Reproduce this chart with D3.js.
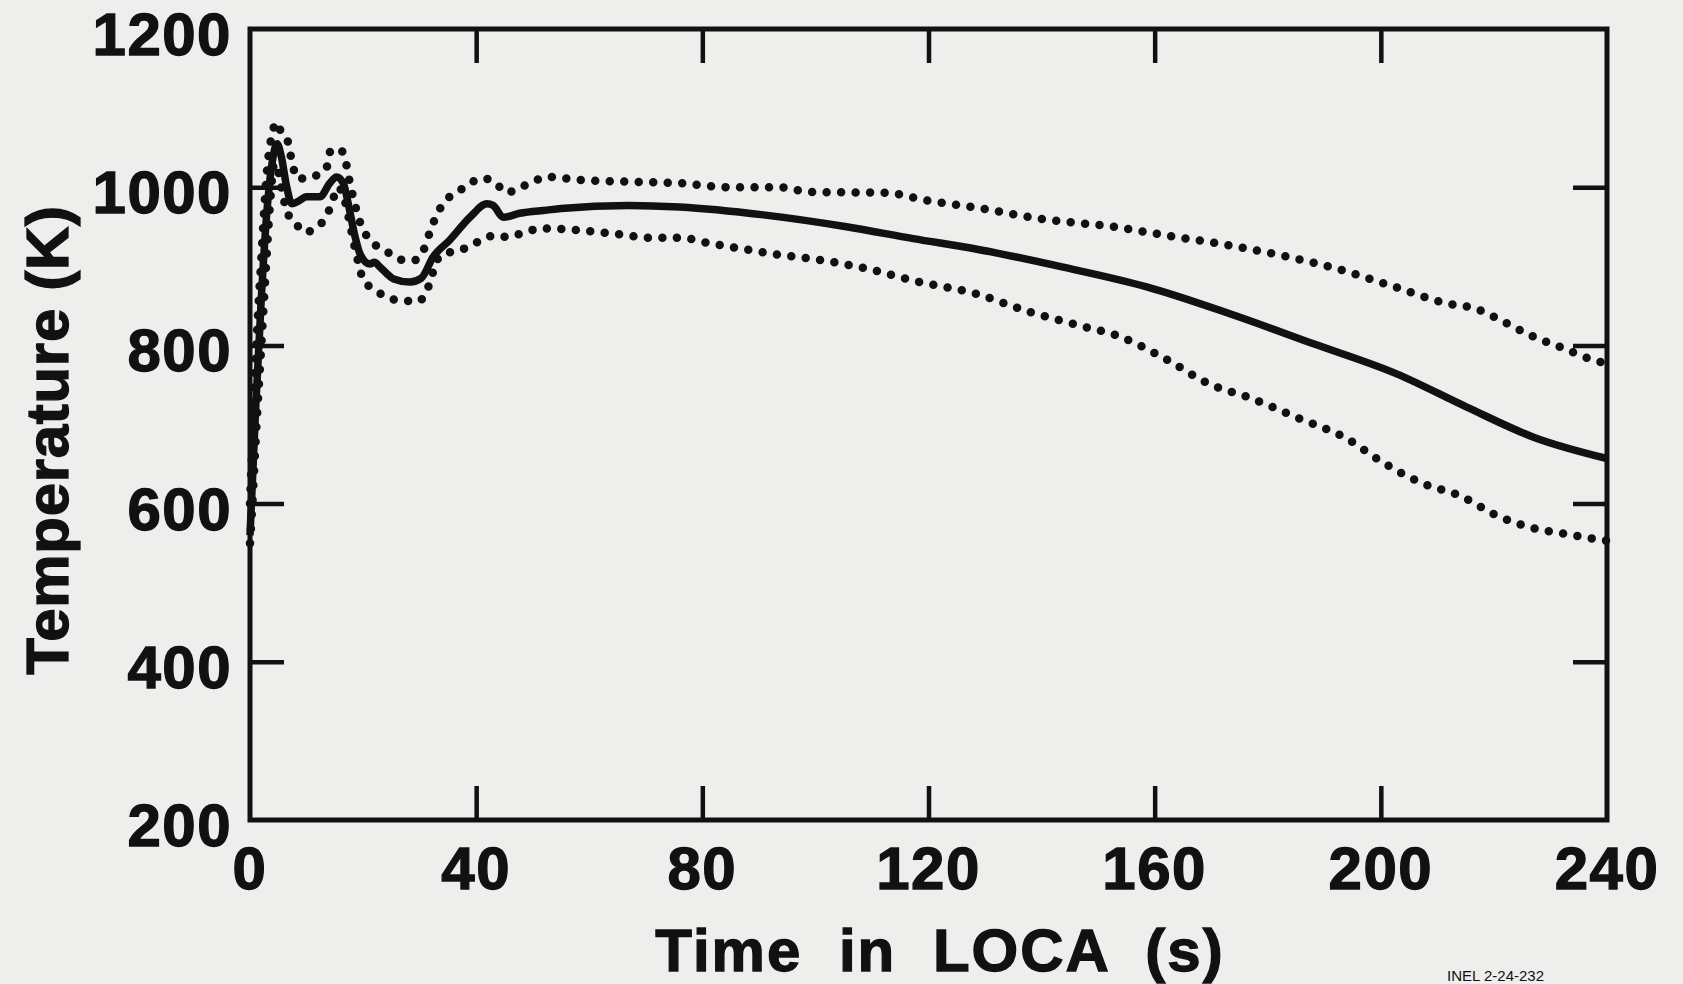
<!DOCTYPE html>
<html>
<head>
<meta charset="utf-8">
<script src="https://cdn.jsdelivr.net/npm/d3@7"></script>
<style>
  html, body { margin: 0; padding: 0; background: #eeeeec; }
  svg { display: block; }
  text { font-family: "Liberation Sans", Arial, Helvetica, sans-serif; font-weight: bold; fill: #111; }
</style>
</head>
<body>
<svg id="chart" width="1683" height="984"></svg>
<script>
// ---- data ----
const xTicks = [0, 40, 80, 120, 160, 200, 240];
const yTicks = [200, 400, 600, 800, 1000, 1200];

// solid line: best estimate
const solidT = [0, 0.5, 1, 2, 3, 4, 4.8, 5.5, 6.5, 7.4, 8.5, 10, 12.4, 14.1, 15.3, 16.5, 17.5, 18.5, 19.5, 21.2, 22, 23, 25.4, 28.3, 30.3, 32.4, 35.3, 38.9, 41.9, 43, 44.8, 47.7, 52.5, 55, 67, 76, 90.8, 105.5, 117.3, 129, 143.8, 158.6, 173.3, 188.1, 202.8, 215.2, 227, 240];
const solidV = [560, 640, 720, 860, 970, 1035, 1055, 1040, 1000, 979, 982, 988, 988, 1005, 1013, 1005, 975, 940, 915, 903, 905, 899, 884, 880, 885, 912, 933, 962, 979, 977, 962, 967, 971, 973, 977, 975, 965, 950, 935, 921, 899, 874, 840, 802, 764, 722, 684, 657];

// upper dotted bound
const upperT = [0, 0.5, 1, 2, 3, 4, 4.7, 5.5, 6.5, 7.5, 8.3, 9.7, 11.8, 13.6, 14.3, 16, 17, 17.5, 18.5, 19.5, 20.5, 21.8, 23.9, 27.1, 29.2, 30.9, 31.8, 33.3, 35.3, 37.1, 38.9, 40.9, 42.7, 44.2, 45.4, 47.2, 49.8, 52.5, 58.4, 67.2, 76.1, 84.9, 93.7, 99, 112.6, 119.1, 128.5, 140.9, 152.7, 162.1, 172.7, 182.2, 192.2, 201.6, 211.7, 217, 221.7, 226.4, 231.7, 237, 240];
const upperV = [600, 690, 780, 910, 1020, 1070, 1082, 1070, 1062, 1030, 1011, 1011, 1015, 1026, 1047, 1047, 1030, 1011, 980, 955, 940, 929, 920, 908, 908, 924, 943, 969, 988, 996, 1005, 1011, 1009, 1000, 993, 998, 1006, 1013, 1009, 1007, 1005, 1000, 1000, 994, 993, 984, 974, 959, 950, 939, 927, 914, 897, 876, 853, 846, 830, 813, 798, 783, 777];

// lower dotted bound
const lowerT = [0, 0.5, 1, 2, 3, 3.5, 4.3, 5, 5.8, 6.8, 8.1, 9.6, 11.7, 13.4, 14.5, 15.5, 16.5, 17.5, 18.5, 19.5, 20, 21.8, 24.8, 27.1, 29.5, 31.2, 31.8, 33.5, 36.5, 38.6, 41.3, 43.6, 45.4, 47.7, 51.6, 57.2, 64.8, 71, 76.1, 81.4, 87.2, 93.2, 100.8, 109.1, 117.3, 128.5, 138, 146.8, 153.9, 160.9, 170.4, 176.3, 185.1, 194, 199.9, 206.9, 214.6, 219.9, 226.4, 232.3, 240];
const lowerV = [550, 610, 680, 800, 920, 975, 1030, 1020, 990, 965, 954, 943, 949, 962, 980, 1000, 990, 960, 925, 895, 882, 872, 859, 857, 855, 867, 880, 912, 920, 924, 935, 939, 937, 941, 948, 946, 941, 936, 936, 929, 922, 915, 908, 897, 882, 865, 842, 825, 811, 787, 749, 735, 709, 682, 654, 627, 608, 587, 570, 562, 553];

const xLabel = "Time in LOCA (s)";
const yLabel = "Temperature (K)";
const stamp = "INEL 2-24-232";

// ---- layout ----
const L = 250, R = 1607, T = 29, B = 820;
const svg = d3.select("#chart");
svg.append("rect").attr("width", 1683).attr("height", 984).attr("fill", "#eeeeec");

const x = d3.scaleLinear().domain([0, 240]).range([L, R]);
const y = d3.scaleLinear().domain([200, 1200]).range([B, T]);

const tickLen = 34;
const ink = "#111";

// frame axes with inward ticks
const inner = xTicks.filter(d => d > 0 && d < 240);
const innerY = yTicks.filter(d => d > 200 && d < 1200);

const gB = svg.append("g").attr("transform", `translate(0,${B})`)
  .call(d3.axisBottom(x).tickValues(inner).tickSize(-tickLen).tickFormat(""));
const gT = svg.append("g").attr("transform", `translate(0,${T})`)
  .call(d3.axisTop(x).tickValues(inner).tickSize(-tickLen).tickFormat(""));
const gL = svg.append("g").attr("transform", `translate(${L},0)`)
  .call(d3.axisLeft(y).tickValues(innerY).tickSize(-tickLen).tickFormat(""));
const gR = svg.append("g").attr("transform", `translate(${R},0)`)
  .call(d3.axisRight(y).tickValues(innerY).tickSize(-tickLen).tickFormat(""));
[gB, gT, gL, gR].forEach(g => {
  g.select(".domain").remove();
  g.selectAll(".tick line").attr("stroke", ink).attr("stroke-width", 4.5);
});
svg.append("rect").attr("x", L).attr("y", T).attr("width", R - L).attr("height", B - T)
  .attr("fill", "none").attr("stroke", ink).attr("stroke-width", 5);

const heavy = sel => sel.style("stroke", ink).style("stroke-width", "1.3px").style("paint-order", "stroke");

// tick labels
svg.append("g").selectAll("text").data(xTicks).join("text")
  .attr("x", d => x(d)).attr("y", 889)
  .attr("text-anchor", "middle")
  .style("font-size", "60px").style("letter-spacing", "1.5px")
  .call(heavy)
  .text(d => d);
svg.append("g").selectAll("text").data(yTicks).join("text")
  .attr("x", 232).attr("y", d => y(d) + 26)
  .attr("text-anchor", "end")
  .style("font-size", "60px").style("letter-spacing", "1.5px")
  .call(heavy)
  .text(d => d);

// axis titles
svg.append("text")
  .attr("x", 940).attr("y", 971).attr("text-anchor", "middle")
  .style("font-size", "60px").style("letter-spacing", "2px").style("word-spacing", "18px")
  .call(heavy)
  .text(xLabel);
svg.append("text")
  .attr("transform", "translate(68,440) rotate(-90)")
  .attr("text-anchor", "middle")
  .style("font-size", "60px").style("letter-spacing", "0.7px")
  .call(heavy)
  .text(yLabel);

svg.append("text")
  .attr("x", 1447).attr("y", 981)
  .style("font-size", "15px").style("font-weight", "normal")
  .text(stamp);

// curves
const line = d3.line().x(d => x(d[0])).y(d => y(d[1])).curve(d3.curveMonotoneX);
const zip = (a, b) => a.map((t, i) => [t, b[i]]);

const plot = svg.append("g");
plot.append("path").datum(zip(upperT, upperV))
  .attr("d", line).attr("fill", "none").attr("stroke", ink)
  .attr("stroke-width", 8.5).attr("stroke-linecap", "round").attr("stroke-dasharray", "0 14.5");
plot.append("path").datum(zip(lowerT, lowerV))
  .attr("d", line).attr("fill", "none").attr("stroke", ink)
  .attr("stroke-width", 8.5).attr("stroke-linecap", "round").attr("stroke-dasharray", "0 14.5");
plot.append("path").datum(zip(solidT, solidV))
  .attr("d", line).attr("fill", "none").attr("stroke", ink)
  .attr("stroke-width", 7.5).attr("stroke-linejoin", "round");
</script>
</body>
</html>
